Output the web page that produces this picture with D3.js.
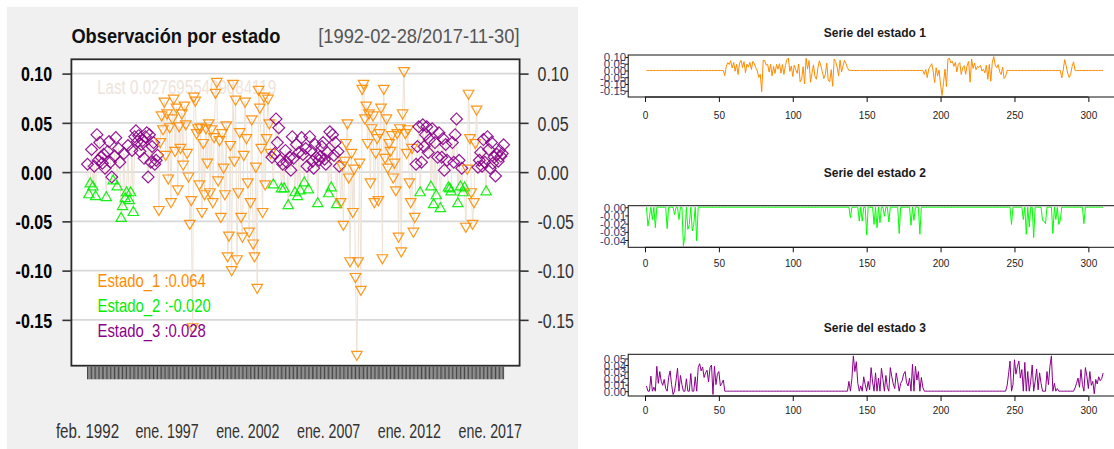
<!DOCTYPE html>
<html>
<head>
<meta charset="utf-8">
<script src="https://cdn.jsdelivr.net/npm/d3@7"></script>
<style>
  body { margin: 0; background: #fff; }
  svg { display: block; font-family: "Liberation Sans", Arial, sans-serif; }
</style>
</head>
<body>
<svg id="c" width="1114" height="449"></svg>
<script>
// Monthly returns, Feb 1992 .. Nov 2017 (310 observations)
const retornos = [
  0.008,-0.023,-0.012,0.023,-0.015,0.006,-0.025,0.038,0.012,0.030,
  0.015,0.009,0.018,0.004,-0.026,0.021,0.031,0.010,-0.005,-0.009,
  0.016,0.035,-0.015,0.024,0.010,-0.047,-0.035,0.019,-0.027,-0.021,
  0.027,-0.029,-0.021,0.022,-0.041,0.036,0.042,0.031,0.037,0.021,
  0.028,0.032,0.014,0.036,0.040,-0.005,0.038,0.010,0.026,0.030,
  0.008,0.012,0.017,-0.038,0.031,0.058,0.044,0.072,0.018,0.060,
  -0.006,0.046,-0.030,0.055,0.075,0.022,0.066,-0.017,0.047,0.025,
  0.060,0.008,0.068,0.049,0.020,-0.004,-0.052,-0.028,-0.157,0.077,
  0.073,0.040,0.045,-0.012,0.046,-0.040,0.030,-0.022,0.045,0.010,
  0.050,-0.020,0.044,-0.030,0.036,0.081,0.092,-0.008,0.033,-0.045,
  0.040,0.005,-0.022,0.048,-0.085,-0.064,0.028,-0.099,0.090,0.012,
  0.074,-0.088,-0.020,0.041,-0.045,-0.065,0.018,0.072,0.035,-0.010,
  -0.060,-0.030,0.054,-0.072,-0.085,0.006,-0.117,0.084,0.066,0.025,
  -0.040,0.077,-0.012,0.035,0.075,0.050,0.020,0.015,-0.013,0.019,
  0.054,0.030,0.045,0.012,-0.017,0.008,-0.017,0.022,0.010,-0.034,
  0.015,0.002,0.036,0.014,-0.021,0.028,-0.025,0.020,-0.019,0.035,
  0.018,-0.011,0.024,0.006,-0.018,0.036,0.022,0.011,0.004,0.028,
  0.015,-0.032,0.012,0.016,0.026,0.030,0.013,0.008,0.020,-0.022,
  0.041,-0.016,0.038,0.017,0.030,-0.033,0.021,0.006,-0.030,0.007,
  -0.053,0.012,0.030,0.050,-0.005,-0.090,0.020,-0.040,0.004,-0.106,
  -0.185,-0.090,0.010,-0.119,0.085,0.090,0.055,0.068,0.030,0.060,
  -0.010,0.045,0.058,-0.030,0.020,0.035,-0.028,0.040,0.066,-0.087,
  0.085,0.015,0.055,0.005,0.030,0.022,0.038,-0.005,0.010,-0.018,
  0.040,-0.065,0.045,-0.080,0.060,0.103,0.040,0.020,0.044,-0.010,
  -0.030,0.025,-0.060,-0.045,0.008,0.026,0.046,-0.021,0.010,0.048,
  0.026,0.038,0.046,0.020,0.033,-0.015,0.044,-0.033,0.030,-0.024,
  0.015,0.040,-0.037,0.015,0.034,0.002,0.028,0.012,-0.016,-0.017,
  -0.020,0.030,0.010,0.038,0.054,-0.032,0.012,-0.015,0.004,-0.021,
  -0.016,-0.055,0.004,0.080,0.035,-0.020,-0.052,-0.030,0.030,0.064,
  0.005,0.012,0.020,0.006,0.033,0.010,-0.020,0.036,0.023,0.004,
  0.030,0.009,0.015,-0.004,0.018,0.011,0.022,0.016,0.019,0.0276955409084119
];

// Regime assigned to each observation (1, 2 or 3)
const estados = [
  3,2,2,3,2,3,2,3,3,3,
  3,3,3,3,2,3,3,3,3,2,
  3,3,2,3,3,2,2,3,2,2,
  3,2,2,3,2,3,3,3,3,3,
  3,3,3,3,3,3,3,3,3,3,
  3,3,3,1,1,1,1,1,1,1,
  1,1,1,1,1,1,1,1,1,1,
  1,1,1,1,1,1,1,1,1,1,
  1,1,1,1,1,1,1,1,1,1,
  1,1,1,1,1,1,1,1,1,1,
  1,1,1,1,1,1,1,1,1,1,
  1,1,1,1,1,1,1,1,1,1,
  1,1,1,1,1,1,1,1,1,1,
  1,1,1,1,1,1,1,3,2,3,
  3,3,3,3,2,3,2,3,3,2,
  3,3,3,3,2,3,2,3,2,3,
  3,2,3,3,2,3,3,3,3,3,
  3,2,3,3,3,3,3,3,3,2,
  3,2,3,3,3,2,3,3,1,1,
  1,1,1,1,1,1,1,1,1,1,
  1,1,1,1,1,1,1,1,1,1,
  1,1,1,1,1,1,1,1,1,1,
  1,1,1,1,1,1,1,1,1,1,
  1,1,1,1,1,1,1,1,1,1,
  1,1,1,1,3,3,3,2,3,3,
  3,3,3,3,3,2,3,2,3,2,
  3,3,2,3,3,3,3,3,2,2,
  2,3,3,3,3,2,3,2,3,2,
  2,1,1,1,1,1,1,1,1,1,
  3,3,3,3,3,3,2,3,3,3,
  3,3,3,3,3,3,3,3,3,3
];

const periodo = "[1992-02-28/2017-11-30]";
const nombresEstado = ["Estado_1", "Estado_2", "Estado_3"];
const coloresEstado = ["#FF8C00", "#00EE00", "#8B008B"];
const ticksPrecio = [0.10, 0.05, 0.00, -0.05, -0.10, -0.15];
const etiquetasFecha = ["feb. 1992", "ene. 1997", "ene. 2002", "ene. 2007", "ene. 2012", "ene. 2017"];
const mesesEtiqueta = [0, 59, 119, 179, 239, 299];
const ticksIndice = [0, 50, 100, 150, 200, 250, 300];
const ticksSeries = [
  [0.10, 0.05, 0.00, -0.05, -0.10, -0.15],
  [0.00, -0.01, -0.02, -0.03, -0.04],
  [0.00, 0.01, 0.02, 0.03, 0.04, 0.05]
];

const svg = d3.select("#c");
const fechas = retornos.map((_, k) => new Date(1992, 2 + k, 0));
// plain hyphen for negative numbers
const locale = d3.formatLocale({ decimal: ".", thousands: ",", grouping: [3], currency: ["", ""], minus: "-" });
const fmt2 = locale.format(".2f");
const fmt3 = locale.format(".3f");

// ---------- left panel: observations coloured by regime ----------
svg.append("rect").attr("x", 7).attr("y", 7).attr("width", 571).attr("height", 442).attr("fill", "#F0F0F0");

const P = { left: 71.4, right: 519.6, top: 59.3, bottom: 365.7 };
svg.append("rect").attr("x", P.left).attr("y", P.top)
  .attr("width", P.right - P.left).attr("height", P.bottom - P.top).attr("fill", "#fff");

const ext = d3.extent(retornos);
const pad = (ext[1] - ext[0]) * 0.04;
const y = d3.scaleLinear().domain([ext[0] - pad, ext[1] + pad]).range([P.bottom, P.top]);
const x = d3.scaleTime().domain([fechas[0], fechas[fechas.length - 1]]).range([87.5, 503.6]);

// grid
svg.append("g").selectAll("line").data(ticksPrecio).join("line")
  .attr("x1", P.left).attr("x2", P.right)
  .attr("y1", d => y(d)).attr("y2", d => y(d))
  .attr("stroke", "#D8D8D8").attr("stroke-width", 1.6);

// "Last" note
svg.append("text").attr("x", 97.2).attr("y", 93.5)
  .attr("font-size", 21).attr("fill", "#EEE3DA")
  .attr("textLength", 179).attr("lengthAdjust", "spacingAndGlyphs")
  .text("Last " + String(retornos[retornos.length - 1]));

// series line
svg.append("path").datum(retornos)
  .attr("d", d3.line().x((d, i) => x(fechas[i])).y(d => y(d)))
  .attr("fill", "none").attr("stroke", "#EEE2D6").attr("stroke-width", 1);

// markers
const simbolos = [
  d3.symbol().type(d3.symbolTriangle).size(48)(),
  d3.symbol().type(d3.symbolTriangle).size(46)(),
  d3.symbol().type(d3.symbolSquare).size(70)()
];
const giros = [180, 0, 45];
svg.append("g").selectAll("path").data(retornos.map((v, i) => ({ v, i, e: estados[i] }))).join("path")
  .attr("d", d => simbolos[d.e - 1])
  .attr("transform", d => `translate(${x(fechas[d.i])},${y(d.v)}) rotate(${giros[d.e - 1]})`)
  .attr("fill", "none")
  .attr("stroke", d => coloresEstado[d.e - 1])
  .attr("stroke-width", 1.2)
  .attr("stroke-opacity", 0.9);

// frame
svg.append("rect").attr("x", P.left).attr("y", P.top)
  .attr("width", P.right - P.left).attr("height", P.bottom - P.top)
  .attr("fill", "none").attr("stroke", "#2a2a2a").attr("stroke-width", 1.8);

// y axes on both sides
const ejeIzq = svg.append("g").attr("transform", `translate(${P.left},0)`)
  .call(d3.axisLeft(y).tickValues(ticksPrecio).tickSize(9).tickFormat(fmt2));
ejeIzq.select(".domain").remove();
ejeIzq.selectAll("line").attr("stroke", "#333").attr("stroke-width", 1.6);
ejeIzq.selectAll("text").attr("x", -24.2).attr("dy", "0.36em")
  .attr("font-size", 20).attr("font-weight", "bold").attr("fill", "#000")
  .attr("transform", "scale(0.8,1)");

const ejeDer = svg.append("g").attr("transform", `translate(${P.right},0)`)
  .call(d3.axisRight(y).tickValues(ticksPrecio).tickSize(9).tickFormat(fmt2));
ejeDer.select(".domain").remove();
ejeDer.selectAll("line").attr("stroke", "#333").attr("stroke-width", 1.6);
ejeDer.selectAll("text").attr("x", 22.4).attr("dy", "0.36em")
  .attr("font-size", 20).attr("fill", "#333")
  .attr("transform", "scale(0.8,1)");

// monthly ticks under the frame
svg.append("g").selectAll("line").data(fechas).join("line")
  .attr("x1", d => x(d)).attr("x2", d => x(d))
  .attr("y1", 366.7).attr("y2", 379.3)
  .attr("stroke", "#333").attr("stroke-width", 0.9);

// date labels
svg.append("g").selectAll("text").data(etiquetasFecha).join("text")
  .attr("x", (d, i) => x(fechas[mesesEtiqueta[i]]))
  .attr("y", 438.3)
  .attr("text-anchor", "middle")
  .attr("font-size", 20).attr("fill", "#333")
  .attr("textLength", 63.2).attr("lengthAdjust", "spacingAndGlyphs")
  .text(d => d);

// titles
svg.append("text").attr("x", P.left).attr("y", 43.3)
  .attr("font-size", 21).attr("font-weight", "bold").attr("fill", "#111")
  .attr("textLength", 209).attr("lengthAdjust", "spacingAndGlyphs")
  .text("Observación por estado");
svg.append("text").attr("x", P.right).attr("y", 43.3).attr("text-anchor", "end")
  .attr("font-size", 21).attr("fill", "#555")
  .attr("textLength", 201.4).attr("lengthAdjust", "spacingAndGlyphs")
  .text(periodo);

// legend: last value observed in each regime
const ultimos = [1, 2, 3].map(k => {
  let u = 0;
  retornos.forEach((v, i) => { if (estados[i] === k) u = v; });
  return u;
});
const anchosLeyenda = [108.2, 113.2, 108.2];
svg.append("g").selectAll("text").data(nombresEstado).join("text")
  .attr("x", 97.5).attr("y", (d, i) => 286.7 + 25 * i)
  .attr("font-size", 19)
  .attr("fill", (d, i) => coloresEstado[i])
  .attr("textLength", (d, i) => anchosLeyenda[i]).attr("lengthAdjust", "spacingAndGlyphs")
  .text((d, i) => `${d} :${fmt3(ultimos[i])}`);

// ---------- right panels: one series per regime ----------
const paneles = [
  { top: 55, bottom: 97, titulo: 37.3, etiqueta: 119.3 },
  { top: 205.7, bottom: 247.3, titulo: 177.3, etiqueta: 267.3 },
  { top: 354.3, bottom: 396, titulo: 332.3, etiqueta: 414.3 }
];
const n = retornos.length;
const xs = d3.scaleLinear().domain([1 - (n - 1) * 0.04, n + (n - 1) * 0.04]).range([628.2, 1121.4]);
const coloresLinea = ["#FF8C00", "#00FF00", "#8B008B"];

paneles.forEach((p, k) => {
  const vals = retornos.map((v, i) => estados[i] === k + 1 ? v : 0);
  const e = d3.extent(vals);
  const m = (e[1] - e[0]) * 0.04;
  const ys = d3.scaleLinear().domain([e[0] - m, e[1] + m]).range([p.bottom, p.top]);
  const g = svg.append("g");

  g.append("text").attr("x", 874.8).attr("y", p.titulo).attr("text-anchor", "middle")
    .attr("font-size", 12).attr("font-weight", "bold").attr("fill", "#1a1a1a")
    .text(`Serie del estado ${k + 1}`);

  g.append("path").datum(vals)
    .attr("d", d3.line().x((d, i) => xs(i + 1)).y(d => ys(d)))
    .attr("fill", "none").attr("stroke", coloresLinea[k]).attr("stroke-width", 1);

  g.append("rect").attr("x", 628.2).attr("y", p.top)
    .attr("width", 1121.4 - 628.2).attr("height", p.bottom - p.top)
    .attr("fill", "none").attr("stroke", "#111").attr("stroke-width", 1);

  const ax = g.append("g").attr("transform", `translate(0,${p.bottom})`)
    .call(d3.axisBottom(xs).tickValues(ticksIndice).tickSize(5).tickFormat(d3.format("d")));
  ax.select(".domain").attr("d", `M${xs(0)},0H${xs(300)}`).attr("stroke", "#111");
  ax.selectAll("line").attr("stroke", "#111");
  ax.selectAll("text").attr("y", p.etiqueta - p.bottom).attr("dy", 0)
    .attr("font-size", 10).attr("fill", "#222");

  const ay = g.append("g").attr("transform", "translate(628.2,0)")
    .call(d3.axisLeft(ys).tickValues(ticksSeries[k]).tickSize(3).tickFormat(fmt2));
  ay.select(".domain").remove();
  ay.selectAll("line").attr("stroke", "#111");
  ay.selectAll("text").attr("x", -2).attr("dy", "0.35em")
    .attr("font-size", 11.5).attr("fill", "#2e3d6e");
});
</script>
</body>
</html>
